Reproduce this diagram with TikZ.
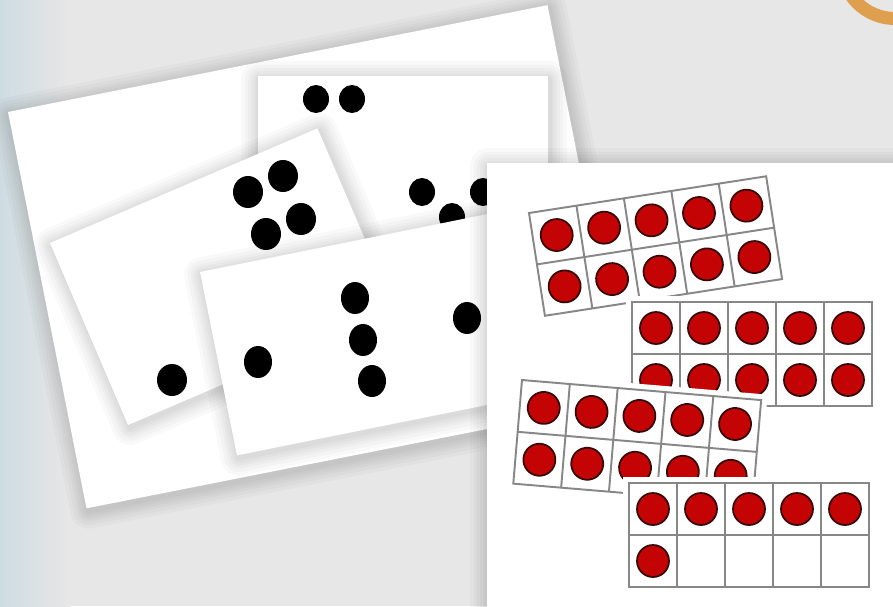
\documentclass[tikz,border=0pt]{standalone}
\usepackage{tikz}
\usetikzlibrary{calc,backgrounds}
\definecolor{bggray}{RGB}{231,231,231}
\definecolor{bgblue}{RGB}{206,220,225}
\definecolor{dotred}{RGB}{196,4,4}
\definecolor{dotrim}{RGB}{55,8,8}
\definecolor{framegray}{RGB}{135,135,135}
\definecolor{ringorange}{RGB}{222,160,78}
\tikzset{
  card/.style={fill=white},
  cardhalo/.style={draw=black,opacity=0.025,line join=round},
  blackdot/.style={fill=black},
  reddot/.style={fill=dotred,draw=dotrim,line width=1pt},
  framecell/.style={draw=framegray,line width=1.1pt}
}
% white card, rotated about its top-left corner
\newcommand{\dotcard}[5]{%
  \begin{scope}[shift={(#1,#2)},rotate=#3]
    \foreach \hw in {20,16,12,9,6,3}
      \draw[cardhalo,line width=\hw pt] (1,3) rectangle (#4+1,#5+3);
    \fill[card] (0,0) rectangle (#4,#5);
  \end{scope}}
% ten frame with a number of counters
\newcommand{\tenframe}[4]{%
  \begin{scope}[shift={(#1,#2)},rotate=#3]
    \fill[white] (-6,-6) rectangle (246,110);
    \foreach \c in {1,...,4} \draw[framecell] (48*\c,0) -- (48*\c,104);
    \draw[framecell] (0,52) -- (240,52);
    \draw[framecell] (0,0) rectangle (240,104);
    \foreach \k in {1,...,#4}{
      \pgfmathtruncatemacro{\tfcol}{mod(\k-1,5)}
      \pgfmathtruncatemacro{\tfrow}{int((\k-1)/5)}
      \filldraw[reddot] (24+48*\tfcol,26+52*\tfrow) circle[radius=16];
    }
  \end{scope}}

\begin{document}
\begin{tikzpicture}[x=0.02cm,y=-0.02cm]
  \useasboundingbox (0,0) rectangle (893,606);
  \clip (0,0) rectangle (893,606);
  \fill[bggray] (0,0) rectangle (893,606);
  \shade[left color=bgblue,right color=bggray] (0,0) rectangle (70,606);
  \fill[ringorange,even odd rule] (895,-35) circle[radius=60] (895,-35) circle[radius=47];

  % dot cards
  \dotcard{8}{112}{11.2}{550}{404}
  \dotcard{258}{76}{0}{290}{224}
  \foreach \p in {(316,99),(352,99),(422,192),(483,192),(452,217)}
    \fill[blackdot] \p ellipse[x radius=13,y radius=14];
  \dotcard{50}{243}{23.2}{291}{198}
  \foreach \p in {(248,192),(283,176),(266,234),(301,219),(172,380)}
    \fill[blackdot] \p ellipse[x radius=15,y radius=16];
  \dotcard{200}{272}{11.4}{300}{187}
  \foreach \p in {(355,298),(363,340),(372,381),(258,362),(467,318)}
    \fill[blackdot] \p ellipse[x radius=14,y radius=16];

  % ten frame sheet
  \dotcard{487}{163}{0}{420}{460}
  \tenframe{529}{213}{8.8}{10}
  \tenframe{632}{302}{0}{10}
  \tenframe{522}{380}{-4.8}{10}
  \tenframe{629}{483}{0}{6}
\end{tikzpicture}
\end{document}
